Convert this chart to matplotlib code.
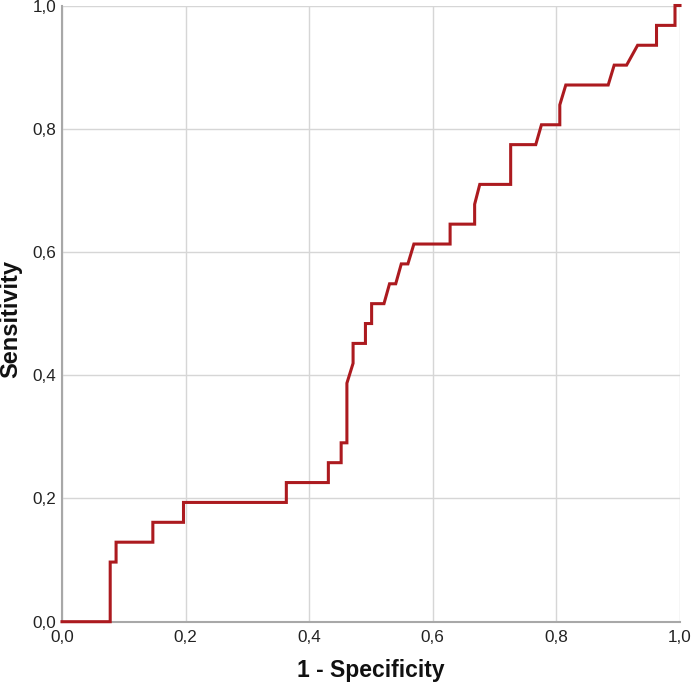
import matplotlib
matplotlib.use("Agg")
import matplotlib.pyplot as plt
import numpy as np

# ROC curve vertices (1 - specificity, sensitivity)
fpr = [0, 0.078, 0.078, 0.0875, 0.0875, 0.147, 0.147, 0.1966, 0.1966, 0.363,
       0.363, 0.431, 0.431, 0.4517, 0.4517, 0.461, 0.461, 0.471, 0.471, 0.491,
       0.491, 0.501, 0.501, 0.521, 0.530, 0.540, 0.549, 0.5597, 0.5694, 0.628,
       0.628, 0.6677, 0.6677, 0.676, 0.726, 0.726, 0.7666, 0.7758, 0.8055, 0.8055,
       0.8152, 0.8838, 0.8935, 0.9136, 0.9314, 0.962, 0.962, 0.9919, 0.9919, 1.0]
tpr_counts = [0, 0, 3, 3, 4, 4, 5, 5, 6, 6,
              7, 7, 8, 8, 9, 9, 12, 13, 14, 14,
              15, 15, 16, 16, 17, 17, 18, 18, 19, 19,
              20, 20, 21, 22, 22, 24, 24, 25, 25, 26,
              27, 27, 28, 28, 29, 29, 30, 30, 31, 31]
n_pos = 31
tpr = [c / n_pos for c in tpr_counts]

ticks = [0.0, 0.2, 0.4, 0.6, 0.8, 1.0]
tick_labels = ["0,0", "0,2", "0,4", "0,6", "0,8", "1,0"]

plt.rcParams['font.family'] = ['Liberation Sans', 'DejaVu Sans']

fig = plt.figure(figsize=(6.91, 6.84), dpi=100)
ax = fig.add_axes([62/691, 1 - 621.7/684, (680-62)/691, (621.7-5.5)/684])

ax.plot(fpr, tpr, color='#AC1A1F', lw=2.2, solid_joinstyle='miter', zorder=3, clip_on=False)

ax.set_xlim(0, 1)
ax.set_ylim(0, 1)
ax.set_xticks(ticks)
ax.set_xticklabels(tick_labels)
ax.set_yticks(ticks)
ax.set_yticklabels(tick_labels)
ax.tick_params(length=0, labelsize=12.3, colors='#222222')
ax.tick_params(axis='x', pad=6)
ax.tick_params(axis='y', pad=4)
ax.grid(True, color='#d6d6d6', lw=1.0)
ax.set_axisbelow(True)
for s in ['top', 'right']:
    ax.spines[s].set_visible(False)
for s in ['left', 'bottom']:
    ax.spines[s].set_color('#a8a8a8')
    ax.spines[s].set_linewidth(1.5)

ax.set_xlabel("1 - Specificity", fontsize=16.5, fontweight='bold', color='#111111')
ax.set_ylabel("Sensitivity", fontsize=17, fontweight='bold', color='#111111')
ax.xaxis.set_label_coords(0.5, -0.061)
ax.yaxis.set_label_coords(-0.0647, 0.492)

fig.savefig("out.png", dpi=100)
